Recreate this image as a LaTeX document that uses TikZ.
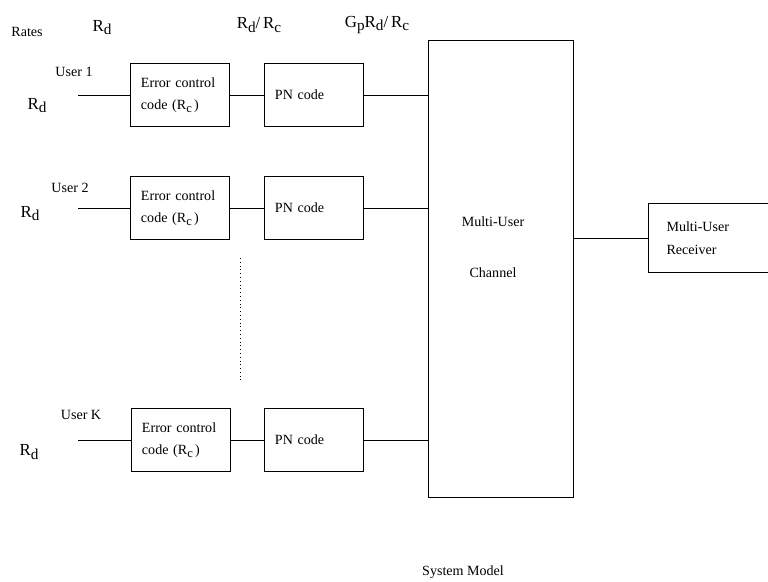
\documentclass[tikz,border=0pt]{standalone}
\usepackage{fontspec}
\setmainfont{Liberation Serif}
\usepackage{tikz}
\usetikzlibrary{positioning, calc}
\newcommand{\lowsub}[1]{\raisebox{-0.4ex}{\fontsize{0.9\dimexpr\fontdimen6\font\relax}{10}\selectfont #1}}
\newcommand{\Rd}{R\lowsub{d}}
\newcommand{\Rc}{R\lowsub{c}}
\begin{document}
\begin{tikzpicture}[
  x=0.025cm, y=-0.025cm,
  every node/.style={font=\fontsize{10}{16}\selectfont},
  rate/.style={font=\fontsize{12}{14}\selectfont},
  blk/.style={draw, line width=0.7pt, inner xsep=0.25cm, text width=1.95cm,
              minimum height=1.55cm, align=left},
  link/.style={line width=0.7pt}
]
  \useasboundingbox (0,0) rectangle (768,582);
  \clip (0,0) rectangle (768,582);

  % rate labels
  \node (rates) at (27,32) {Rates};
  \node[rate] (hrd) at (102,28) {\Rd};
  \node[rate] (hrdc) at (259,25) {\Rd/\,\Rc};
  \node[rate] (hgp) at (377,25) {G\lowsub{p}\Rd/\,\Rc};

  % channel and receiver
  \node[draw, line width=0.7pt, minimum width=3.6cm, minimum height=11.4cm] (chan) at (501,269) {};
  \node[align=center] (chantxt) at (493,247) {Multi-User\\[20pt]Channel};
  \node[blk, anchor=west, inner xsep=0.45cm, text width=2.65cm, minimum height=1.7cm] (rx) at (648,238)
    {Multi-User\\Receiver};

  % user 1
  \node (u1) at (74,72) {User 1};
  \node[rate] (rd1) at (37,106) {\Rd};
  \node[blk] (ecc1) at (180,95) {Error control\\code (\Rc\,)};
  \node[blk] (pn1) at (314,95) {PN code};

  % user 2
  \node (u2) at (70,188) {User 2};
  \node[rate] (rd2) at (30,214) {\Rd};
  \node[blk] (ecc2) at (180,208) {Error control\\code (\Rc\,)};
  \node[blk] (pn2) at (314,208) {PN code};

  % user K
  \node (uk) at (81,415) {User K};
  \node[rate] (rdk) at (29,452) {\Rd};
  \node[blk] (ecck) at (181,440) {Error control\\code (\Rc\,)};
  \node[blk] (pnk) at (314,440) {PN code};

  \coordinate (in1) at (78,95);
  \coordinate (in2) at (78,208);
  \coordinate (ink) at (78,440);

  % connections
  \draw[link] (in1) -- (ecc1) -- (pn1) -- (pn1 -| chan.west);
  \draw[link] (in2) -- (ecc2) -- (pn2) -- (pn2 -| chan.west);
  \draw[link] (ink) -- (ecck) -- (pnk) -- (pnk -| chan.west);
  \draw[link] (chan.east |- rx.west) -- (rx.west);

  % more users
  \draw[dotted, line width=0.7pt] (240,258) -- (240,380);

  \node (title) at (463,572) {System Model};
\end{tikzpicture}
\end{document}
